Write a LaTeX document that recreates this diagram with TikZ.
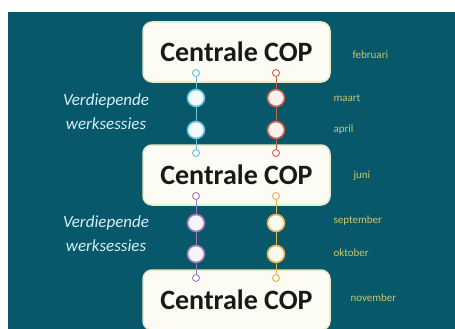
\documentclass[tikz,border=0pt]{standalone}
\usepackage{fontspec}
\setmainfont{Carlito}

\definecolor{bgteal}{RGB}{8,88,108}
\definecolor{boxfill}{RGB}{252,252,244}
\definecolor{boxline}{RGB}{232,234,196}
\definecolor{monthcol}{RGB}{196,200,110}
\definecolor{sidecol}{RGB}{215,238,246}
\definecolor{bluecol}{RGB}{110,190,220}
\definecolor{redcol}{RGB}{205,95,80}
\definecolor{purplecol}{RGB}{160,120,190}
\definecolor{goldcol}{RGB}{225,180,80}

\begin{document}
\begin{tikzpicture}[x=1pt, y=-1pt,
  copbox/.style={draw=boxline, fill=boxfill, line width=1.5pt, rounded corners=9pt,
    minimum width=187pt, minimum height=60pt, text=black!90,
    font=\fontsize{28}{32}\selectfont\bfseries},
  bigdot/.style={circle, draw=#1, line width=1.6pt, fill=#1!8, minimum size=17pt, inner sep=0pt},
  smalldot/.style={circle, draw=#1, line width=0.9pt, fill=white, minimum size=7pt, inner sep=0pt},
  month/.style={anchor=west, text=monthcol, font=\fontsize{11}{13}\selectfont},
  side/.style={align=center, text=sidecol, font=\fontsize{17}{24}\selectfont\itshape}]

\useasboundingbox (0,0) rectangle (455,329);
\fill[bgteal] (8,12) rectangle (455,329);

\node[copbox] (cop1) at (236.5,52) {Centrale COP};
\node[copbox] (cop2) at (236.5,175) {Centrale COP};
\node[copbox] (cop3) at (236.5,300) {Centrale COP};

\node[smalldot=bluecol] (sb1) at (196,73) {};
\node[smalldot=redcol] (sr1) at (276,73) {};
\node[bigdot=bluecol] (b1) at (196,98) {};
\node[bigdot=redcol] (r1) at (276,98) {};
\node[bigdot=bluecol] (b2) at (196,130) {};
\node[bigdot=redcol] (r2) at (276,130) {};
\node[smalldot=bluecol] (sb2) at (196,153) {};
\node[smalldot=redcol] (sr2) at (276,153) {};

\node[smalldot=purplecol] (sp1) at (196,196) {};
\node[smalldot=goldcol] (sg1) at (276,196) {};
\node[bigdot=purplecol] (p1) at (196,223) {};
\node[bigdot=goldcol] (g1) at (276,223) {};
\node[bigdot=purplecol] (p2) at (196,254) {};
\node[bigdot=goldcol] (g2) at (276,254) {};
\node[smalldot=purplecol] (sp2) at (196,278) {};
\node[smalldot=goldcol] (sg2) at (276,278) {};

\draw [bluecol, line width=0.8pt] (sb1) -- (b1) -- (b2) -- (sb2);
\draw [redcol, line width=0.8pt] (sr1) -- (r1) -- (r2) -- (sr2);
\draw [purplecol, line width=0.8pt] (sp1) -- (p1) -- (p2) -- (sp2);
\draw [goldcol, line width=0.8pt] (sg1) -- (g1) -- (g2) -- (sg2);

\node[side] (ws1) at (106,112) {Verdiepende\\werksessies};
\node[side] (ws2) at (106,234) {Verdiepende\\werksessies};

\node[month] (feb) at (349,55) {februari};
\node[month] (mrt) at (330,98) {maart};
\node[month] (apr) at (330,130) {april};
\node[month] (jun) at (350,176) {juni};
\node[month] (sep) at (330,221) {september};
\node[month] (okt) at (330,253) {oktober};
\node[month] (nov) at (347,298) {november};

\end{tikzpicture}
\end{document}
